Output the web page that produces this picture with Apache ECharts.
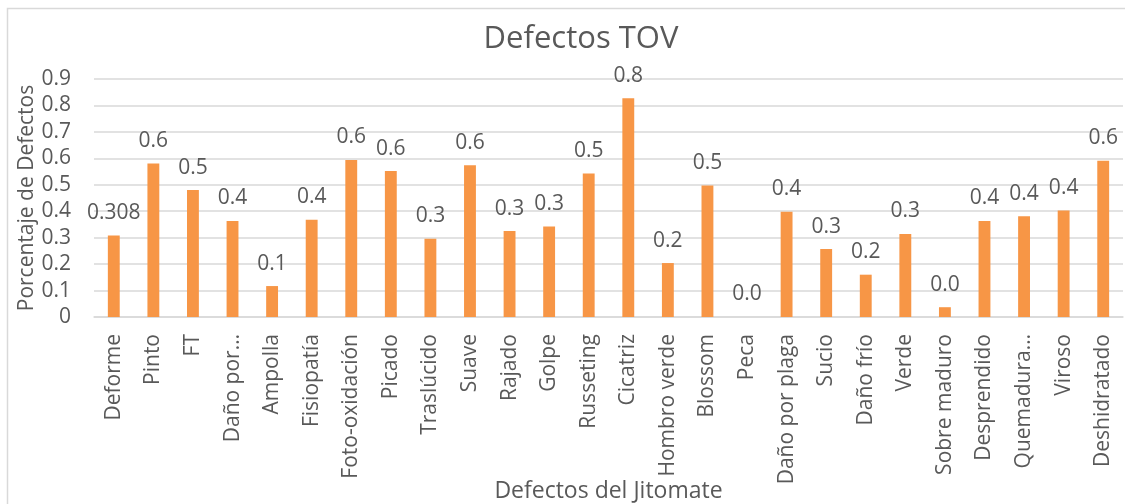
<!DOCTYPE html>
<html>
<head>
<meta charset="utf-8">
<script src="https://cdn.jsdelivr.net/npm/echarts@6/dist/echarts.min.js"></script>
<style>
  html, body { margin: 0; padding: 0; background: #ffffff; }
  #chart { width: 1125px; height: 504px; }
</style>
</head>
<body>
<div id="chart"></div>
<script>
// Defect categories for the tomato (jitomate) inspection
const categories = [
  'Deforme', 'Pinto', 'FT', 'Daño por…', 'Ampolla', 'Fisiopatía',
  'Foto-oxidación', 'Picado', 'Traslúcido', 'Suave', 'Rajado', 'Golpe',
  'Russeting', 'Cicatriz', 'Hombro verde', 'Blossom', 'Peca',
  'Daño por plaga', 'Sucio', 'Daño frío', 'Verde', 'Sobre maduro',
  'Desprendido', 'Quemadura…', 'Viroso', 'Deshidratado'
];

// Percentage of defects per category
const defectPercent = [
  0.308, 0.58, 0.48, 0.363, 0.117, 0.368,
  0.594, 0.552, 0.296, 0.574, 0.325, 0.342,
  0.543, 0.827, 0.204, 0.497, 0,
  0.398, 0.257, 0.16, 0.314, 0.037,
  0.363, 0.381, 0.403, 0.591
];

// Decimal places shown in each bar's data label
const labelDecimals = [
  3, 1, 1, 1, 1, 1, 1, 1, 1, 1, 1, 1, 1,
  1, 1, 1, 1, 1, 1, 1, 1, 1, 1, 1, 1, 1
];

const yTicks = { min: 0, max: 0.9, interval: 0.1 };

const FONT = '"Open Sans", "Noto Sans", sans-serif';
const TEXT = '#595959';

const chart = echarts.init(document.getElementById('chart'), null, { renderer: 'canvas' });

chart.setOption({
  backgroundColor: '#ffffff',
  animation: false,
  textStyle: { fontFamily: FONT, color: TEXT },
  graphic: [{
    type: 'rect',
    shape: { x: 7.5, y: 8.5, width: 1140, height: 520 },
    style: { fill: 'none', stroke: '#d9d9d9', lineWidth: 1.5 },
    silent: true
  }],
  title: {
    text: 'Defectos TOV',
    left: 576,
    top: 19,
    textAlign: 'center',
    textStyle: { fontFamily: FONT, fontSize: 31, fontWeight: 'normal', color: TEXT }
  },
  grid: {
    left: 94, right: 2, top: 79, bottom: 187,
    containLabel: false,
    outerBoundsMode: 'none'
  },
  xAxis: {
    type: 'category',
    data: categories,
    name: 'Defectos del Jitomate',
    nameLocation: 'middle',
    nameGap: 163,
    nameMoveOverlap: false,
    nameTextStyle: { fontFamily: FONT, fontSize: 23, color: TEXT },
    axisLine: { show: true, lineStyle: { color: '#d9d9d9', width: 1.5 } },
    axisTick: { show: false },
    axisLabel: {
      interval: 0,
      rotate: 90,
      margin: 17,
      fontFamily: FONT,
      fontSize: 21,
      color: TEXT
    }
  },
  yAxis: {
    type: 'value',
    min: yTicks.min,
    max: yTicks.max,
    interval: yTicks.interval,
    name: 'Porcentaje de Defectos',
    nameLocation: 'middle',
    nameGap: 56,
    nameMoveOverlap: false,
    nameRotate: 90,
    nameTextStyle: { fontFamily: FONT, fontSize: 21, color: TEXT },
    axisLine: { show: false },
    axisTick: { show: false },
    splitLine: { show: true, lineStyle: { color: '#d9d9d9', width: 1.5 } },
    axisLabel: {
      margin: 23,
      fontFamily: FONT,
      fontSize: 21,
      color: TEXT,
      formatter: v => (v === 0 ? '0' : v.toFixed(1))
    }
  },
  series: [{
    type: 'bar',
    data: defectPercent,
    barWidth: '30%',
    itemStyle: { color: '#F79646' },
    label: {
      show: true,
      position: 'top',
      distance: 12,
      fontFamily: FONT,
      fontSize: 21,
      color: TEXT,
      formatter: p => p.value.toFixed(labelDecimals[p.dataIndex])
    }
  }]
});
</script>
</body>
</html>
